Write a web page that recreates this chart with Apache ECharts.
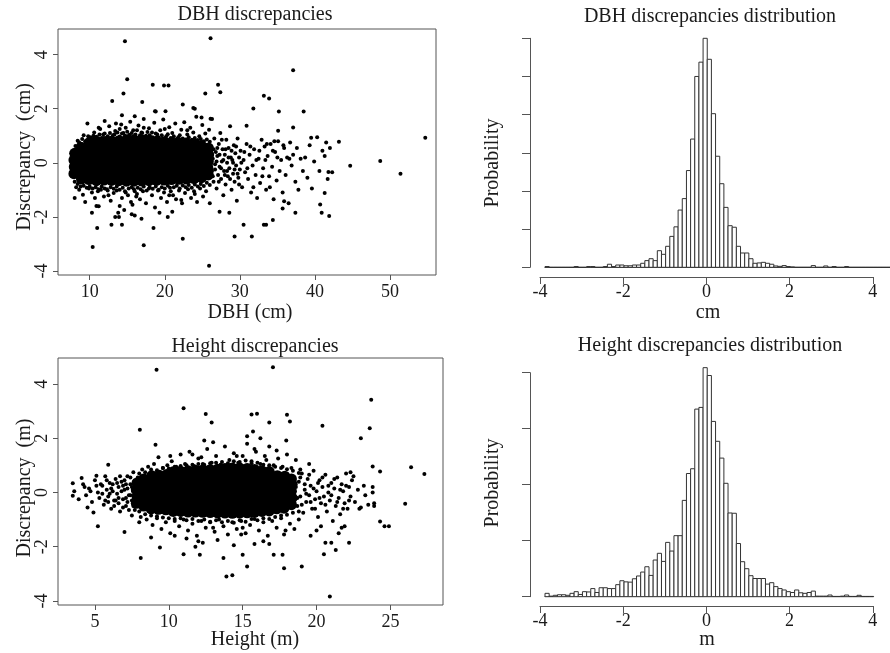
<!DOCTYPE html>
<html><head><meta charset="utf-8">
<script src="https://cdn.jsdelivr.net/npm/echarts@6/dist/echarts.min.js"></script>
<style>html,body{margin:0;padding:0;background:#fff}#c{width:890px;height:653px}</style>
</head><body><div id="c"></div>
<script>
// ---------- DATA ----------
const dbhXTicks = [10, 20, 30, 40, 50];
const htXTicks = [5, 10, 15, 20, 25];
const discTicks = [-4, -2, 0, 2, 4];

// dense core of DBH discrepancies (DBH cm, discrepancy cm)
const dbhCore = [
[7.9,-0.4],[7.95,-0.15],[7.9,0.1],[8.0,0.35],
[8.9,-0.6],[8.85,-0.36],[8.9,-0.12],[8.95,0.12],[8.9,0.36],[8.85,0.58],
[9.9,-0.62],[10.0,-0.4],[9.9,-0.16],[10.0,0.08],[9.9,0.32],[10.0,0.55],[9.95,0.75],
[10.9,-0.66],[10.85,-0.42],[10.9,-0.17],[10.95,0.07],[10.9,0.31],[10.85,0.56],[10.9,0.8],
[11.9,-0.64],[11.95,-0.4],[11.9,-0.15],[11.85,0.09],[11.9,0.33],[11.95,0.57],[11.9,0.79],
[12.9,-0.65],[12.85,-0.41],[12.9,-0.16],[12.95,0.08],[12.9,0.32],[12.85,0.56],[12.9,0.8],
[13.9,-0.66],[13.95,-0.4],[13.9,-0.16],[13.85,0.08],[13.9,0.33],[13.95,0.57],[13.9,0.82],
[14.9,-0.68],[14.85,-0.42],[14.9,-0.17],[14.95,0.08],[14.9,0.33],[14.85,0.58],[14.9,0.84],
[15.9,-0.68],[15.95,-0.42],[15.9,-0.16],[15.85,0.09],[15.9,0.34],[15.95,0.59],[15.9,0.85],
[16.9,-0.67],[16.85,-0.41],[16.9,-0.16],[16.95,0.09],[16.9,0.34],[16.85,0.59],[16.9,0.85],
[17.9,-0.66],[17.95,-0.41],[17.9,-0.16],[17.85,0.08],[17.9,0.33],[17.95,0.58],[17.9,0.83],
[18.9,-0.65],[18.85,-0.4],[18.9,-0.15],[18.95,0.09],[18.9,0.33],[18.85,0.57],[18.9,0.8],
[19.9,-0.64],[19.95,-0.4],[19.9,-0.15],[19.85,0.09],[19.9,0.33],[19.95,0.56],[19.9,0.78],
[20.9,-0.62],[20.85,-0.39],[20.9,-0.15],[20.95,0.08],[20.9,0.32],[20.85,0.55],[20.9,0.76],
[21.9,-0.61],[21.95,-0.38],[21.9,-0.14],[21.85,0.09],[21.9,0.32],[21.95,0.54],[21.9,0.74],
[22.9,-0.6],[22.85,-0.37],[22.9,-0.14],[22.95,0.09],[22.9,0.31],[22.85,0.53],[22.9,0.72],
[23.9,-0.58],[23.95,-0.36],[23.9,-0.13],[23.85,0.09],[23.9,0.31],[23.95,0.52],[23.9,0.7],
[24.9,-0.55],[24.85,-0.3],[24.9,-0.06],[24.95,0.18],[24.9,0.42],[24.85,0.64],
[25.8,-0.45],[25.75,-0.2],[25.8,0.05],[25.85,0.3],[25.8,0.55]
];

// individual DBH points (fringe, sparse large trees, outliers)
const dbhPoints = [
[8.4,0.82],[9.2,1.02],[9.7,1.45],[10.1,0.95],[10.6,1.12],[11.0,0.88],[11.4,1.25],[11.8,1.05],[12.2,0.92],[12.6,1.35],
[13.1,1.02],[13.4,1.18],[13.8,0.9],[14.2,1.42],[14.5,1.1],[14.8,1.3],[15.1,0.98],[15.4,1.52],[15.8,1.2],[16.1,1.05],
[16.5,1.38],[16.9,1.12],[17.2,1.62],[17.5,1.0],[17.9,1.28],[18.3,1.12],[18.6,1.48],[19.0,1.05],[19.4,1.2],[19.8,1.6],
[20.2,0.98],[20.6,1.32],[21.0,1.1],[21.4,1.45],[21.8,0.95],[22.2,1.22],[22.6,1.5],[23.0,1.05],[23.4,1.3],[23.8,1.12],
[24.2,1.7],[24.6,0.98],[25.0,1.4],[25.4,1.08],[25.9,1.22],[26.3,1.62],[12.0,1.55],[16.0,1.72],[18.8,1.9],[13.5,1.45],
[8.2,-0.9],[8.6,-1.0],[9.1,-1.18],[9.4,-1.45],[9.9,-0.95],[10.3,-1.1],[10.7,-1.3],[11.1,-1.05],[11.5,-1.0],[11.9,-1.25],
[12.3,-0.98],[12.8,-1.4],[13.2,-1.12],[13.6,-1.02],[14.0,-1.6],[14.3,-1.3],[14.7,-1.05],[15.1,-1.2],[15.5,-1.45],[15.9,-0.98],
[16.3,-1.15],[16.7,-1.35],[17.1,-1.05],[17.5,-1.5],[17.9,-0.95],[18.3,-1.2],[18.7,-1.65],[19.1,-1.02],[19.5,-1.3],[19.9,-1.1],
[20.3,-1.45],[20.7,-0.92],[21.1,-1.2],[21.5,-1.35],[21.9,-1.02],[22.3,-1.5],[22.7,-1.12],[23.1,-0.98],[23.5,-1.3],[23.9,-1.05],
[24.3,-1.45],[24.7,-0.95],[25.1,-1.25],[25.5,-1.05],[26.0,-1.5],[13.8,-1.85],[14.6,-1.75],[19.3,-1.85],[10.9,-1.6],[15.7,-1.55],
[8.1,0.62],[8.6,0.75],[9.0,0.88],[9.4,0.8],[9.8,0.98],[10.2,0.9],[10.5,1.0],[10.9,0.96],[11.3,1.05],[11.6,0.92],
[12.0,1.08],[12.4,0.98],[12.7,1.1],[13.0,0.94],[13.3,1.05],[13.7,1.12],[14.0,0.97],[14.3,1.08],[14.7,1.0],[15.0,1.15],
[15.3,1.04],[15.6,1.1],[16.0,0.98],[16.3,1.2],[16.7,1.02],[17.0,1.1],[17.4,0.96],[17.7,1.14],[18.0,1.02],[18.4,0.95],
[18.8,1.08],[19.2,0.94],[19.6,1.02],[20.0,0.9],[20.4,1.06],[20.8,0.92],[21.2,0.98],[21.6,0.88],[22.0,1.02],[22.4,0.9],
[22.8,0.86],[23.2,0.95],[23.6,0.85],[24.0,0.92],[24.4,0.84],[24.8,0.88],[25.2,0.8],[25.6,0.86],[26.0,0.78],[11.2,1.3],
[14.0,1.25],[17.2,1.3],[20.0,1.25],[23.0,1.2],
[8.0,-0.7],[8.4,-0.78],[8.8,-0.88],[9.2,-0.85],[9.6,-0.92],[10.0,-0.88],[10.4,-0.95],[10.8,-0.9],[11.2,-0.98],[11.6,-0.88],
[12.0,-0.95],[12.4,-1.02],[12.8,-0.9],[13.2,-0.96],[13.6,-0.88],[14.0,-1.0],[14.4,-0.92],[14.8,-1.1],[15.2,-0.95],[15.6,-0.9],
[16.0,-1.05],[16.4,-0.92],[16.8,-0.98],[17.2,-0.88],[17.6,-1.02],[18.0,-0.9],[18.4,-0.96],[18.8,-0.88],[19.2,-1.0],[19.6,-0.9],
[20.0,-0.95],[20.4,-0.85],[20.8,-1.05],[21.2,-0.9],[21.6,-0.85],[22.0,-0.95],[22.4,-0.84],[22.8,-0.9],[23.2,-0.82],[23.6,-0.92],
[24.0,-0.8],[24.4,-0.88],[24.8,-0.78],[25.2,-0.86],[25.6,-0.74],[26.0,-0.82],[12.5,-1.2],[16.2,-1.25],[20.6,-1.2],[24.0,-1.15],
[26.2,0.6],[26.3,-0.3],[26.4,0.15],[26.5,-0.7],[26.6,0.9],[26.7,-0.05],[26.8,0.4],[26.9,-0.95],[27.0,0.25],[27.1,-0.45],
[27.2,0.7],[27.3,-0.15],[27.4,1.1],[27.5,-0.6],[27.6,0.05],[27.7,0.5],[27.8,-1.2],[27.9,-0.3],[28.0,0.3],[28.1,-0.8],
[28.2,0.85],[28.3,0.0],[28.4,-0.5],[28.5,0.55],[28.6,-0.2],[28.7,1.35],[28.8,0.2],[28.9,-1.0],[29.0,0.1],[29.1,-0.4],
[29.2,0.65],[29.3,-0.7],[29.4,0.35],[29.5,-0.1],[29.6,-1.4],[29.7,0.9],[29.8,-0.55],[29.9,0.2],[30.0,-0.25],[30.1,0.45],
[26.1,-0.1],[26.2,0.35],[26.4,-0.5],[26.5,0.5],[26.7,-0.25],[26.9,0.05],[27.0,0.55],[27.2,-0.7],[27.3,0.3],[27.5,-0.2],
[27.6,0.85],[27.8,0.1],[28.0,-0.45],[28.1,0.5],[28.3,-0.3],[28.5,0.2],[28.7,-0.6],[28.9,0.45],[29.1,0.0],[29.3,-0.25],
[29.5,0.6],[29.7,-0.4],[29.9,-0.8],[30.2,0.0],[30.6,0.4],[31.0,-0.2],[31.4,0.6],[31.8,-0.9],[32.2,0.1],[32.6,0.45],
[33.0,-0.5],[33.4,0.1],[34.0,-0.9],[34.4,0.45],[35.0,0.2],
[30.3,-0.9],[30.5,0.1],[30.7,-0.35],[30.9,0.7],[31.1,-0.6],[31.3,0.3],[31.5,-1.1],[31.7,-0.1],[31.9,0.5],[32.1,-0.45],
[32.3,-1.3],[32.5,0.15],[32.7,-0.75],[32.9,0.85],[33.1,-0.2],[33.3,0.6],[33.5,-1.0],[33.7,0.25],[33.9,-0.5],[34.1,0.7],
[34.3,-0.15],[34.5,-1.35],[34.7,0.4],[34.9,-0.65],[35.1,0.8],[35.3,-0.3],[35.5,0.1],[35.7,-1.1],[35.9,0.55],[36.1,-0.45],
[36.3,0.2],[36.5,-1.5],[36.7,0.75],[36.9,-0.1],[37.1,0.3],[37.4,-0.7],[37.6,0.55],[37.8,-1.0],[38.1,0.15],[38.4,-0.3],
[38.7,0.2],[39.0,-0.55],[39.3,0.65],[39.6,-0.95],[39.9,0.05],[40.3,0.95],[40.6,-0.3],[41.0,0.45],[41.3,0.25],[41.7,-0.6],
[42.0,0.55],[42.3,-0.35],[41.5,0.75],
[14.7,4.5],[26.1,4.61],[15.0,3.09],[37.1,3.42],[14.5,2.56],[18.4,2.89],[19.9,2.86],[20.5,2.86],[27.1,2.89],[27.4,2.61],
[25.4,2.56],[13.0,2.29],[17.0,2.25],[22.4,2.16],[23.8,2.03],[24.0,2.0],[33.2,2.48],[33.9,2.38],[31.8,2.01],[35.2,1.9],
[38.5,1.9],[37.1,1.31],[35.1,1.19],[30.9,1.37],[24.9,1.68],[26.1,1.63],[20.1,1.91],[18.7,1.91],[14.3,1.76],[54.7,0.93],
[43.2,0.78],[39.5,0.93],[44.7,-0.11],[48.7,0.07],[51.4,-0.4],[41.8,-0.34],[41.3,-1.12],[40.7,-1.54],[40.9,-1.85],[41.9,-1.97],
[37.4,-1.85],[34.4,-2.12],[33.2,-2.29],[33.5,-2.29],[30.5,-2.29],[29.3,-2.73],[31.6,-2.73],[22.4,-2.81],[25.9,-3.81],[17.2,-3.05],
[10.4,-3.11],[11.0,-2.41],[18.5,-2.41],[12.9,-2.29],[14.3,-2.29],[13.4,-2.0],[13.9,-2.0],[10.3,-1.85],[11.2,-1.61],[8.0,-1.3],
[15.6,-1.9],[16.0,-1.95],[16.9,-2.07],[20.4,-2.0],[21.0,-1.81],[27.3,-1.81],[28.6,-1.85],[35.7,-1.69],[35.9,-1.42],[22.2,-1.38],
[36.6,0.15],[35.8,0.65],[34.6,0.8],[33.6,0.7]
];

// dense core of height discrepancies (height m, discrepancy m)
const htCore = [
[7.8,-0.4],[7.85,-0.15],[7.8,0.1],[7.85,0.35],
[8.3,-0.5],[8.35,-0.25],[8.3,0.0],[8.35,0.25],[8.3,0.5],
[8.8,-0.6],[8.85,-0.35],[8.8,-0.1],[8.85,0.15],[8.8,0.4],[8.85,0.62],
[9.3,-0.62],[9.35,-0.37],[9.3,-0.12],[9.35,0.14],[9.3,0.4],[9.35,0.64],
[9.8,-0.64],[9.85,-0.38],[9.8,-0.12],[9.85,0.14],[9.8,0.4],[9.85,0.66],
[10.3,-0.7],[10.35,-0.45],[10.3,-0.2],[10.35,0.05],[10.3,0.3],[10.35,0.55],[10.3,0.76],
[10.8,-0.7],[10.85,-0.45],[10.8,-0.2],[10.85,0.05],[10.8,0.3],[10.85,0.55],[10.8,0.78],
[11.3,-0.72],[11.35,-0.46],[11.3,-0.2],[11.35,0.05],[11.3,0.3],[11.35,0.56],[11.3,0.8],
[11.8,-0.72],[11.85,-0.46],[11.8,-0.2],[11.85,0.05],[11.8,0.31],[11.85,0.57],[11.8,0.82],
[12.3,-0.73],[12.35,-0.47],[12.3,-0.21],[12.35,0.05],[12.3,0.31],[12.35,0.57],[12.3,0.83],
[12.8,-0.74],[12.85,-0.47],[12.8,-0.21],[12.85,0.05],[12.8,0.32],[12.85,0.58],[12.8,0.84],
[13.3,-0.75],[13.35,-0.48],[13.3,-0.21],[13.35,0.06],[13.3,0.33],[13.35,0.6],[13.3,0.86],
[13.8,-0.76],[13.85,-0.49],[13.8,-0.21],[13.85,0.06],[13.8,0.33],[13.85,0.61],[13.8,0.88],
[14.3,-0.77],[14.35,-0.49],[14.3,-0.21],[14.35,0.07],[14.3,0.35],[14.35,0.63],[14.3,0.9],
[14.8,-0.76],[14.85,-0.49],[14.8,-0.21],[14.85,0.07],[14.8,0.35],[14.85,0.63],[14.8,0.9],
[15.3,-0.75],[15.35,-0.48],[15.3,-0.2],[15.35,0.07],[15.3,0.35],[15.35,0.62],[15.3,0.88],
[15.8,-0.73],[15.85,-0.47],[15.8,-0.2],[15.85,0.07],[15.8,0.34],[15.85,0.6],[15.8,0.85],
[16.3,-0.7],[16.35,-0.45],[16.3,-0.19],[16.35,0.06],[16.3,0.32],[16.35,0.57],[16.3,0.8],
[16.8,-0.68],[16.85,-0.43],[16.8,-0.18],[16.85,0.06],[16.8,0.31],[16.85,0.55],[16.8,0.77],
[17.3,-0.6],[17.35,-0.35],[17.3,-0.1],[17.35,0.15],[17.3,0.4],[17.35,0.62],
[17.8,-0.58],[17.85,-0.34],[17.8,-0.1],[17.85,0.14],[17.8,0.38],[17.85,0.6],
[18.3,-0.45],[18.35,-0.2],[18.3,0.05],[18.35,0.3],[18.3,0.5]
];

// individual height points
const htPoints = [
[3.6,0.05],[3.9,-0.25],[4.2,0.3],[4.4,-0.1],[4.6,0.15],[4.8,-0.35],[5.0,0.45],[5.2,0.0],[5.3,-0.2],[5.5,0.25],
[5.6,-0.45],[5.8,0.1],[5.9,-0.15],[6.0,0.35],[6.1,-0.6],[6.2,0.05],[6.3,-0.3],[6.4,0.5],[6.5,-0.05],[6.6,0.2],
[6.7,-0.7],[6.8,0.4],[6.9,-0.25],[7.0,0.1],[7.1,-0.5],[7.2,0.6],[7.3,-0.1],[7.4,0.3],[7.5,-0.85],[7.6,0.75],
[7.2,-0.35],[6.9,0.25],[6.6,-0.4],[5.7,0.6],[4.5,-0.55],[7.7,-0.65],[7.9,0.55],[8.0,-1.1],[8.2,0.85],[8.1,-0.9],
[5.4,0.3],[5.7,-0.3],[5.8,0.45],[6.0,-0.05],[6.2,0.3],[6.3,-0.5],[6.5,0.35],[6.6,-0.2],[6.8,0.05],[6.9,-0.55],
[7.0,0.45],[7.1,-0.2],[7.2,0.15],[7.3,-0.65],[7.4,0.55],[7.5,-0.3],[7.5,0.2],[7.6,-0.5],[7.7,0.4],[7.6,0.05],
[7.4,-0.1],[7.1,0.3],[6.7,0.6],[6.4,-0.3],[6.1,0.15],[5.9,-0.35],[5.5,-0.05],[5.1,0.25],[4.7,0.05],[4.3,0.2],
[8.6,0.95],[9.0,1.05],[9.3,1.3],[9.6,0.9],[9.9,1.0],[10.2,1.15],[10.5,0.95],[10.8,1.4],[11.1,1.05],[11.4,1.5],
[11.7,0.98],[12.0,1.25],[12.3,1.05],[12.6,1.6],[12.9,1.1],[13.2,1.35],[13.5,1.02],[13.8,1.7],[14.1,1.2],[14.4,1.45],
[14.7,1.1],[15.0,1.35],[15.3,1.8],[15.6,1.15],[15.9,1.5],[16.2,1.05],[16.5,1.35],[16.8,1.7],[17.1,1.0],[17.4,1.25],
[17.7,0.95],[18.0,1.4],[18.3,0.9],[18.6,1.2],[18.9,0.85],[13.0,1.85],[11.6,1.4],[15.8,1.6],[17.3,1.55],[10.1,1.35],
[8.0,0.7],[8.4,0.75],[8.8,0.85],[9.2,0.82],[9.6,0.9],[10.0,0.88],[10.4,0.95],[10.8,0.98],[11.2,1.0],[11.6,1.02],
[12.0,1.05],[12.4,1.02],[12.8,1.08],[13.2,1.1],[13.6,1.12],[14.0,1.08],[14.4,1.15],[14.8,1.12],[15.2,1.18],[15.6,1.08],
[16.0,1.1],[16.4,1.02],[16.8,1.0],[17.2,0.95],[17.6,0.9],[18.0,0.86],[18.4,0.8],[18.8,0.72],[12.2,1.3],[14.6,1.35],[16.6,1.2],
[8.5,-1.0],[8.9,-1.2],[9.2,-0.95],[9.5,-1.35],[9.8,-1.1],[10.1,-1.5],[10.4,-1.05],[10.7,-1.25],[11.0,-1.0],[11.3,-1.4],
[11.6,-1.15],[11.9,-1.6],[12.2,-1.05],[12.5,-1.3],[12.8,-1.1],[13.1,-1.45],[13.4,-1.0],[13.7,-1.25],[14.0,-1.55],[14.3,-1.1],
[14.6,-1.35],[14.9,-1.05],[15.2,-1.5],[15.5,-1.2],[15.8,-0.98],[16.1,-1.4],[16.4,-1.1],[16.7,-1.6],[17.0,-1.05],[17.3,-1.3],
[17.6,-0.95],[17.9,-1.4],[18.2,-1.15],[18.5,-1.35],[18.8,-1.0],[12.0,-1.8],[13.3,-1.75],[16.4,-1.8],[17.8,-1.55],[11.2,-1.7],
[8.0,-0.7],[8.4,-0.8],[8.8,-0.85],[9.2,-0.88],[9.6,-0.92],[10.0,-0.95],[10.4,-0.98],[10.8,-0.95],[11.2,-1.02],[11.6,-0.98],
[12.0,-1.05],[12.4,-1.0],[12.8,-1.08],[13.2,-1.02],[13.6,-1.1],[14.0,-1.05],[14.4,-1.12],[14.8,-1.02],[15.2,-1.08],[15.6,-0.98],
[16.0,-1.02],[16.4,-0.95],[16.8,-0.98],[17.2,-0.9],[17.6,-0.85],[18.0,-0.82],[18.4,-0.75],[18.8,-0.7],[13.0,-1.3],[15.0,-1.3],
[18.7,-0.5],[18.8,0.4],[18.9,-0.15],[19.0,0.7],[19.1,-0.75],[19.2,0.1],[19.3,-0.35],[19.4,0.5],[19.5,-0.1],[19.6,0.25],
[19.7,-0.6],[19.8,0.8],[19.9,-0.25],[20.0,0.05],[20.1,-0.9],[20.2,0.45],[20.3,-0.4],[20.4,0.2],[20.5,-0.15],[20.6,0.65],
[20.7,-0.7],[20.8,0.0],[20.9,-0.3],[21.0,0.35],[21.1,-1.05],[21.2,0.15],[21.3,-0.5],[21.4,0.55],[21.5,-0.2],[21.6,-0.8],
[21.7,0.3],[21.8,0.05],[21.9,-0.4],[22.0,0.7],[22.1,-0.6],[22.2,0.2],[22.3,-0.15],[22.4,0.45],[22.6,-0.35],[22.8,0.1],
[23.0,-0.55],[23.2,0.25],[23.5,-0.45],[23.8,0.2],[23.9,-0.5],[23.3,-0.1],[19.5,1.05],[20.3,-1.25],[21.7,-1.3],[22.9,-0.6],
[18.6,0.2],[18.7,-0.2],[18.9,0.55],[19.0,-0.45],[19.2,0.3],[19.3,-0.05],[19.5,0.65],[19.6,-0.35],[19.8,0.15],[19.9,-0.6],
[20.1,0.35],[20.2,-0.2],[20.4,0.55],[20.6,-0.45],[20.8,0.25],[21.0,-0.1],[21.2,0.5],[21.4,-0.35],[21.6,0.1],[21.8,-0.6],
[22.0,0.25],[22.2,-0.3],
[9.17,4.53],[17.05,4.62],[23.7,3.42],[11.0,3.11],[12.5,2.89],[12.9,2.58],[15.6,2.88],[15.97,2.9],[18.0,2.87],[18.2,2.62],
[16.8,2.58],[20.4,2.46],[23.6,2.37],[23.0,2.0],[8.04,2.31],[9.1,1.76],[12.4,1.92],[15.7,2.25],[15.3,2.07],[16.2,2.0],
[17.95,1.92],[23.8,0.96],[26.4,0.93],[27.3,0.68],[24.3,0.77],[26.0,-0.42],[24.3,-1.07],[24.6,-1.25],[24.9,-1.25],[22.2,-1.85],
[21.5,-1.5],[21.9,-1.25],[21.0,-1.85],[20.6,-1.85],[20.9,-3.84],[20.5,-2.28],[21.3,-2.12],[19.0,-2.73],[17.8,-2.79],[17.1,-2.3],
[17.7,-2.3],[15.3,-2.73],[15.0,-2.3],[13.9,-3.1],[14.3,-3.05],[13.7,-2.42],[12.1,-2.3],[11.0,-2.28],[9.4,-2.03],[8.1,-2.42],
[7.0,-1.46],[5.2,-1.25],[4.9,-0.74],[3.5,-0.12],[3.5,0.34],[4.1,0.53],[5.9,1.02],[5.1,0.62],[8.8,-1.66],[10.4,-1.6],
[11.8,-2.0],[12.3,-1.85],[14.4,-1.95],[15.8,-1.9],[16.8,-1.9],[14.9,-1.55],[20.0,-1.4],[19.6,-1.6],[23.9,-0.4],[23.8,0.0],
[22.5,0.6],[22.3,0.75]
];

// histograms: probability density per 0.1 bin
const binWidth = 0.1;
const dbhHistStart = -3.9;
const dbhHistValues = [
0.004,0,0,0,0,0,0,0.004,0,0,
0.004,0.004,0,0,0.004,0.016,0.004,0.012,0.012,0.008,
0.008,0.012,0.012,0.021,0.035,0.045,0.035,0.087,0.068,0.11,
0.162,0.212,0.30,0.36,0.507,0.672,1.0,1.075,1.2,1.09,
0.805,0.582,0.438,0.314,0.218,0.21,0.11,0.075,0.075,0.045,
0.021,0.023,0.026,0.021,0.016,0.007,0.005,0.009,0.004,0.002,
0,0,0,0,0.009,0,0,0.007,0,0.004,
0,0,0.004,0,0,0,0,0,0,0,
0,0,0,0,0,0
];
const htHistStart = -3.9;
const htHistValues = [
0.012,0.002,0.005,0.007,0.007,0.005,0.012,0.018,0.008,0.018,
0.017,0.029,0.015,0.032,0.032,0.029,0.029,0.043,0.057,0.053,
0.052,0.064,0.074,0.088,0.107,0.076,0.131,0.155,0.126,0.194,
0.163,0.218,0.218,0.344,0.44,0.457,0.67,0.676,0.818,0.79,
0.626,0.555,0.495,0.405,0.299,0.298,0.19,0.125,0.1,0.075,
0.065,0.065,0.065,0.045,0.05,0.036,0.029,0.024,0.018,0.015,
0.024,0.014,0.012,0.015,0.02,0.002,0.002,0.002,0.006,0.001,
0.001,0.002,0.006,0.001,0.001,0.005,0.001,0.001,0.001
];
const histTicks = [-4, -2, 0, 2, 4];

// ---------- CHART ----------
const FONT = '"Liberation Serif", "DejaVu Serif", serif';
const AX = '#555';
const TXT = '#1a1a1a';

function binsOf(start, vals) {
  return vals.map((v, i) => {
    const lo = +(start + i * binWidth).toFixed(2);
    return [lo, +(lo + binWidth).toFixed(2), v];
  });
}
function histItem(params, api) {
  const p0 = api.coord([api.value(0), api.value(2)]);
  const p1 = api.coord([api.value(1), 0]);
  return {type: 'rect',
    shape: {x: p0[0], y: p0[1], width: p1[0] - p0[0], height: p1[1] - p0[1]},
    style: {fill: '#fff', stroke: '#333', lineWidth: 1}};
}
const tickLbl = {fontFamily: FONT, fontSize: 18, color: TXT};

function scatterX(grid, min, max, ticks) {
  return {type: 'value', gridIndex: grid, min: min, max: max, position: 'bottom',
    axisLine: {show: false, onZero: false},
    axisTick: {show: true, length: 5, customValues: ticks, lineStyle: {color: AX}},
    axisLabel: Object.assign({customValues: ticks, margin: 8}, tickLbl),
    splitLine: {show: false}};
}
function scatterY(grid, min, max, ticks) {
  return {type: 'value', gridIndex: grid, min: min, max: max, position: 'left',
    axisLine: {show: false, onZero: false},
    axisTick: {show: true, length: 5, customValues: ticks, lineStyle: {color: AX}},
    axisLabel: Object.assign({customValues: ticks, margin: 7, rotate: 90}, tickLbl),
    splitLine: {show: false}};
}
const dot = {color: '#000', opacity: 1, borderWidth: 0};

const PX = 41.6; // px per unit on histogram x axes

const option = {
  animation: false,
  backgroundColor: '#fff',
  grid: [
    {left: 58, top: 29, width: 378, height: 246, show: true, borderColor: AX, borderWidth: 1},
    {left: 58, top: 358, width: 385, height: 247, show: true, borderColor: AX, borderWidth: 1},
    {left: 545, top: 38.3, width: 345, height: 229},
    {left: 540, top: 267.3, width: 8 * PX, height: 9.7},
    {left: 545, top: 372.7, width: 328, height: 224},
    {left: 540, top: 596.7, width: 8 * PX, height: 9.3}
  ],
  xAxis: [
    scatterX(0, 5.78, 56.13, dbhXTicks),
    scatterX(1, 2.5, 28.56, htXTicks),
    {type: 'value', gridIndex: 2, min: dbhHistStart, max: dbhHistStart + 345 / PX,
      axisLine: {show: true, onZero: false, lineStyle: {color: '#333', width: 1}},
      axisTick: {show: false}, axisLabel: {show: false}, splitLine: {show: false}},
    {type: 'value', gridIndex: 3, min: -4, max: 4, interval: 2, position: 'bottom',
      axisLine: {show: true, onZero: false, lineStyle: {color: AX}},
      axisTick: {show: true, length: 7, lineStyle: {color: AX}},
      axisLabel: Object.assign({margin: 6, customValues: histTicks}, tickLbl), splitLine: {show: false}},
    {type: 'value', gridIndex: 4, min: htHistStart, max: htHistStart + 328 / PX,
      axisLine: {show: true, onZero: false, lineStyle: {color: '#333', width: 1}},
      axisTick: {show: false}, axisLabel: {show: false}, splitLine: {show: false}},
    {type: 'value', gridIndex: 5, min: -4, max: 4, interval: 2, position: 'bottom',
      axisLine: {show: true, onZero: false, lineStyle: {color: AX}},
      axisTick: {show: true, length: 7, lineStyle: {color: AX}},
      axisLabel: Object.assign({margin: 6, customValues: histTicks}, tickLbl), splitLine: {show: false}}
  ],
  yAxis: [
    scatterY(0, -4.15, 4.95, discTicks),
    scatterY(1, -4.15, 4.96, discTicks),
    {type: 'value', gridIndex: 2, min: 0, max: 1.2, interval: 0.2, offset: 15,
      axisLine: {show: true, onZero: false, lineStyle: {color: AX}},
      axisTick: {show: true, length: 8, lineStyle: {color: AX}},
      axisLabel: {show: false}, splitLine: {show: false}},
    {type: 'value', gridIndex: 3, min: 0, max: 1, show: false},
    {type: 'value', gridIndex: 4, min: 0, max: 0.8, interval: 0.2, offset: 15,
      axisLine: {show: true, onZero: false, lineStyle: {color: AX}},
      axisTick: {show: true, length: 8, lineStyle: {color: AX}},
      axisLabel: {show: false}, splitLine: {show: false}},
    {type: 'value', gridIndex: 5, min: 0, max: 1, show: false}
  ],
  series: [
    {type: 'scatter', xAxisIndex: 0, yAxisIndex: 0, data: dbhCore, symbolSize: 11, itemStyle: dot, silent: true},
    {type: 'scatter', xAxisIndex: 0, yAxisIndex: 0, data: dbhPoints, symbolSize: 4, itemStyle: dot, silent: true},
    {type: 'scatter', xAxisIndex: 1, yAxisIndex: 1, data: htCore, symbolSize: 11, itemStyle: dot, silent: true},
    {type: 'scatter', xAxisIndex: 1, yAxisIndex: 1, data: htPoints, symbolSize: 4, itemStyle: dot, silent: true},
    {type: 'custom', xAxisIndex: 2, yAxisIndex: 2, data: binsOf(dbhHistStart, dbhHistValues),
      renderItem: histItem, encode: {x: [0, 1], y: 2}, clip: false, silent: true},
    {type: 'custom', xAxisIndex: 4, yAxisIndex: 4, data: binsOf(htHistStart, htHistValues),
      renderItem: histItem, encode: {x: [0, 1], y: 2}, clip: false, silent: true}
  ],
  graphic: [
    {type: 'text', x: 255, y: 15, style: {text: 'DBH discrepancies', font: '20px ' + FONT, fill: TXT, align: 'center', verticalAlign: 'middle'}},
    {type: 'text', x: 710, y: 16.7, style: {text: 'DBH discrepancies distribution', font: '20px ' + FONT, fill: TXT, align: 'center', verticalAlign: 'middle'}},
    {type: 'text', x: 255, y: 346.7, style: {text: 'Height discrepancies', font: '20px ' + FONT, fill: TXT, align: 'center', verticalAlign: 'middle'}},
    {type: 'text', x: 710, y: 346, style: {text: 'Height discrepancies distribution', font: '20px ' + FONT, fill: TXT, align: 'center', verticalAlign: 'middle'}},
    {type: 'text', x: 250, y: 313, style: {text: 'DBH (cm)', font: '20px ' + FONT, fill: TXT, align: 'center', verticalAlign: 'middle'}},
    {type: 'text', x: 708, y: 313, style: {text: 'cm', font: '20px ' + FONT, fill: TXT, align: 'center', verticalAlign: 'middle'}},
    {type: 'text', x: 255, y: 640, style: {text: 'Height (m)', font: '20px ' + FONT, fill: TXT, align: 'center', verticalAlign: 'middle'}},
    {type: 'text', x: 707, y: 640, style: {text: 'm', font: '20px ' + FONT, fill: TXT, align: 'center', verticalAlign: 'middle'}},
    {type: 'text', x: 25, y: 157, rotation: Math.PI / 2, style: {text: 'Discrepancy  (cm)', font: '20px ' + FONT, fill: TXT, align: 'center', verticalAlign: 'middle'}},
    {type: 'text', x: 25, y: 488, rotation: Math.PI / 2, style: {text: 'Discrepancy  (m)', font: '20px ' + FONT, fill: TXT, align: 'center', verticalAlign: 'middle'}},
    {type: 'text', x: 493, y: 163, rotation: Math.PI / 2, style: {text: 'Probability', font: '20px ' + FONT, fill: TXT, align: 'center', verticalAlign: 'middle'}},
    {type: 'text', x: 493, y: 483, rotation: Math.PI / 2, style: {text: 'Probability', font: '20px ' + FONT, fill: TXT, align: 'center', verticalAlign: 'middle'}}
  ]
};
const chart = echarts.init(document.getElementById('c'), null, {renderer: 'canvas'});
chart.setOption(option);
</script>
</body></html>
